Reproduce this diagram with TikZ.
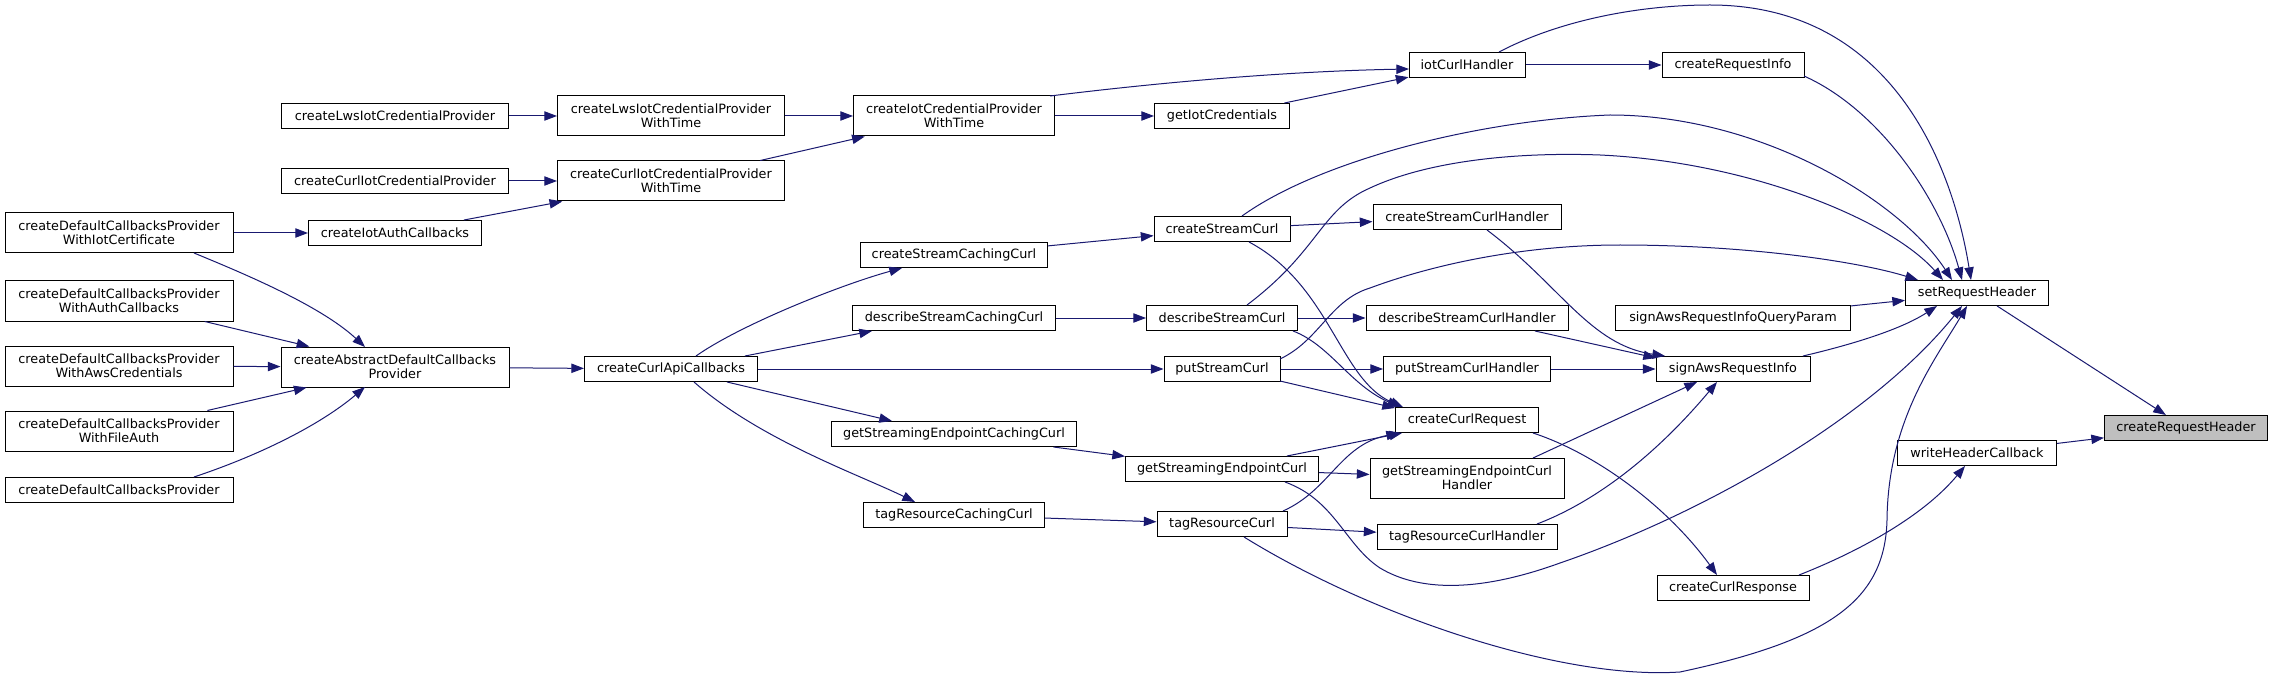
\documentclass[tikz,border=0pt]{standalone}
\usepackage{fontspec}
\setmainfont{DejaVu Sans}
\usetikzlibrary{arrows.meta,calc}
\definecolor{mblue}{HTML}{191970}
\definecolor{hlgrey}{HTML}{BFBFBF}
\begin{document}
\begin{tikzpicture}[x=0.75pt,y=-0.75pt,
  box/.style={draw=black,line width=0.75pt,rectangle,inner sep=0pt,align=center,
    font=\fontsize{9.6pt}{10.8pt}\selectfont,fill=white},
  wh/.style 2 args={minimum width=#1*0.75pt,minimum height=#2*0.75pt},
  hl/.style={fill=hlgrey},
  edge/.style={draw=mblue,line width=0.75pt,-{Triangle[length=9.5pt,width=7pt]}}]
\fill[white] (0,0) rectangle (2273,677);
\useasboundingbox (0,0) rectangle (2273,677);
% column 0
\node[box,wh={228}{40}] (dcpIot) at (119,233) {createDefaultCallbacksProvider\\WithIotCertificate};
\node[box,wh={228}{40}] (dcpAuth) at (119,301) {createDefaultCallbacksProvider\\WithAuthCallbacks};
\node[box,wh={228}{40}] (dcpAws) at (119,366) {createDefaultCallbacksProvider\\WithAwsCredentials};
\node[box,wh={228}{40}] (dcpFile) at (119,431) {createDefaultCallbacksProvider\\WithFileAuth};
\node[box,wh={228}{25}] (dcp) at (119,490) {createDefaultCallbacksProvider};
% column 1
\node[box,wh={227}{25}] (lwsProv) at (395,116) {createLwsIotCredentialProvider};
\node[box,wh={227}{25}] (curlProv) at (395,181) {createCurlIotCredentialProvider};
\node[box,wh={173}{25}] (iotAuth) at (395,233) {createIotAuthCallbacks};
\node[box,wh={228}{40}] (abstract) at (395,367) {createAbstractDefaultCallbacks\\Provider};
% column 2
\node[box,wh={227}{40}] (lwsTime) at (671,116) {createLwsIotCredentialProvider\\WithTime};
\node[box,wh={227}{40}] (curlTime) at (671,181) {createCurlIotCredentialProvider\\WithTime};
\node[box,wh={173}{25}] (apiCb) at (671,369) {createCurlApiCallbacks};
% column 3
\node[box,wh={201}{40}] (iotTime) at (954,116) {createIotCredentialProvider\\WithTime};
\node[box,wh={187}{25}] (scCache) at (954,255) {createStreamCachingCurl};
\node[box,wh={203}{25}] (dsCache) at (954,318) {describeStreamCachingCurl};
\node[box,wh={245}{25}] (gseCache) at (954,434) {getStreamingEndpointCachingCurl};
\node[box,wh={181}{25}] (trCache) at (954,515) {tagResourceCachingCurl};
% column 4
\node[box,wh={135}{25}] (getIot) at (1222,116) {getIotCredentials};
\node[box,wh={136}{25}] (sCurl) at (1222,229) {createStreamCurl};
\node[box,wh={151}{25}] (dCurl) at (1222,318) {describeStreamCurl};
\node[box,wh={116}{25}] (pCurl) at (1222,369) {putStreamCurl};
\node[box,wh={193}{25}] (gCurl) at (1222,469) {getStreamingEndpointCurl};
\node[box,wh={130}{25}] (tCurl) at (1222,524) {tagResourceCurl};
% column 5
\node[box,wh={116}{25}] (iotH) at (1467,65) {iotCurlHandler};
\node[box,wh={188}{25}] (sH) at (1467,217) {createStreamCurlHandler};
\node[box,wh={202}{25}] (dH) at (1467,318) {describeStreamCurlHandler};
\node[box,wh={167}{25}] (pH) at (1467,369) {putStreamCurlHandler};
\node[box,wh={143}{25}] (req) at (1467,420) {createCurlRequest};
\node[box,wh={194}{40}] (gH) at (1467,478) {getStreamingEndpointCurl\\Handler};
\node[box,wh={180}{25}] (tH) at (1467,537) {tagResourceCurlHandler};
% column 6
\node[box,wh={142}{25}] (reqInfo) at (1733,65) {createRequestInfo};
\node[box,wh={235}{25}] (sigQP) at (1733,318) {signAwsRequestInfoQueryParam};
\node[box,wh={154}{25}] (sig) at (1733,369) {signAwsRequestInfo};
\node[box,wh={152}{25}] (resp) at (1733,588) {createCurlResponse};
% column 7
\node[box,wh={143}{25}] (setRH) at (1977,293) {setRequestHeader};
\node[box,wh={159}{25}] (whc) at (1977,453) {writeHeaderCallback};
% column 8
\node[box,hl,wh={163}{25}] (crh) at (2186,428) {createRequestHeader};

% edges
\draw[edge] (lwsProv) -- (lwsTime);
\draw[edge] (curlProv) -- (curlTime);
\draw[edge] (iotAuth) -- (curlTime);
\draw[edge] (dcpIot) -- (iotAuth);
\draw[edge] ($(dcpIot)+(75,20)$) .. controls (240,272) and (320,305) .. ($(abstract)+(-30,-20)$);
\draw[edge] (dcpAuth) -- (abstract);
\draw[edge] (dcpAws) -- (abstract);
\draw[edge] (dcpFile) -- (abstract);
\draw[edge] ($(dcp)+(75,-13)$) .. controls (260,455) and (320,425) .. ($(abstract)+(-30,20)$);
\draw[edge] (abstract) -- (apiCb);
\draw[edge] (lwsTime) -- (iotTime);
\draw[edge] (curlTime) -- (iotTime);
\draw[edge] (iotTime) -- (getIot);
\draw[edge] ($(iotTime)+(96,-20)$) .. controls (1180,80) and (1300,71) .. ($(iotH)+(-58,4)$);
\draw[edge] (getIot) -- (iotH);
\draw[edge] (iotH) -- (reqInfo);
\draw[edge] ($(iotH)+(32,-13)$) .. controls (1560,20) and (1640,5) .. (1710,5)
   .. controls (1900,5) and (1955,180) .. ($(setRH)+(-6,-13)$);
\draw[edge] ($(reqInfo)+(71,11)$) .. controls (1880,110) and (1940,200) .. ($(setRH)+(-15,-13)$);
\draw[edge] ($(apiCb)+(25,-13)$) .. controls (740,325) and (840,285) .. ($(scCache)+(-52,13)$);
\draw[edge] ($(apiCb)+(74,-13)$) -- ($(dsCache)+(-82,13)$);
\draw[edge] (apiCb) -- (pCurl);
\draw[edge] ($(apiCb)+(56,13)$) -- ($(gseCache)+(-62,-13)$);
\draw[edge] ($(apiCb)+(23,13)$) .. controls (760,440) and (860,475) .. ($(trCache)+(-39,-13)$);
\draw[edge] (scCache) -- (sCurl);
\draw[edge] (dsCache) -- (dCurl);
\draw[edge] (gseCache) -- (gCurl);
\draw[edge] (trCache) -- (tCurl);
\draw[edge] (sCurl) -- (sH);
\draw[edge] ($(sCurl)+(20,-13)$) .. controls (1320,160) and (1480,120) .. (1610,115)
   .. controls (1760,115) and (1900,200) .. ($(setRH)+(-25,-13)$);
\draw[edge] ($(sCurl)+(27,13)$) .. controls (1330,285) and (1340,380) .. ($(req)+(-64,-13)$);
\draw[edge] (dCurl) -- (dH);
\draw[edge] ($(dCurl)+(25,-13)$) .. controls (1320,250) and (1320,210) .. (1370,188)
   .. controls (1430,160) and (1520,152) .. (1600,155)
   .. controls (1750,162) and (1890,220) .. ($(setRH)+(-34,-13)$);
\draw[edge] ($(dCurl)+(71,13)$) .. controls (1330,345) and (1350,385) .. ($(req)+(-67,-13)$);
\draw[edge] (pCurl) -- (pH);
\draw[edge] ($(pCurl)+(58,12)$) -- ($(req)+(-72,-12)$);
\draw[edge] ($(pCurl)+(58,-10)$) .. controls (1320,340) and (1330,300) .. (1370,288)
   .. controls (1440,262) and (1530,245) .. (1620,245)
   .. controls (1750,245) and (1860,262) .. ($(setRH)+(-59,-13)$);
\draw[edge] (gCurl) -- (req);
\draw[edge] (gCurl) -- (gH);
\draw[edge] ($(gCurl)+(63,13)$) .. controls (1335,500) and (1345,545) .. (1380,568)
   .. controls (1420,592) and (1480,592) .. (1560,563)
   .. controls (1700,515) and (1870,420) .. ($(setRH)+(-15,13)$);
\draw[edge] (tCurl) -- (tH);
\draw[edge] ($(tCurl)+(61,-13)$) .. controls (1330,490) and (1340,445) .. ($(req)+(-68,13)$);
\draw[edge] ($(tCurl)+(22,13)$) .. controls (1370,615) and (1560,680) .. (1680,672)
   .. controls (1830,640) and (1885,600) .. (1887,520)
   .. controls (1888,420) and (1935,360) .. ($(setRH)+(-10,13)$);
\draw[edge] ($(sH)+(20,13)$) .. controls (1560,285) and (1590,345) .. ($(sig)+(-68,-13)$);
\draw[edge] ($(dH)+(68,13)$) -- ($(sig)+(-77,-11)$);
\draw[edge] (pH) -- (sig);
\draw[edge] ($(gH)+(66,-20)$) -- ($(sig)+(-36,13)$);
\draw[edge] ($(tH)+(70,-13)$) .. controls (1600,500) and (1660,450) .. ($(sig)+(-16,13)$);
\draw[edge] ($(req)+(66,13)$) .. controls (1600,455) and (1670,510) .. ($(resp)+(-16,-13)$);
\draw[edge] ($(resp)+(66,-13)$) .. controls (1850,555) and (1920,520) .. ($(whc)+(-12,13)$);
\draw[edge] (whc) -- (crh);
\draw[edge] (setRH) -- (crh);
\draw[edge] ($(sig)+(70,-13)$) .. controls (1850,345) and (1900,330) .. ($(setRH)+(-40,13)$);
\draw[edge] (sigQP) -- (setRH);
\end{tikzpicture}
\end{document}
